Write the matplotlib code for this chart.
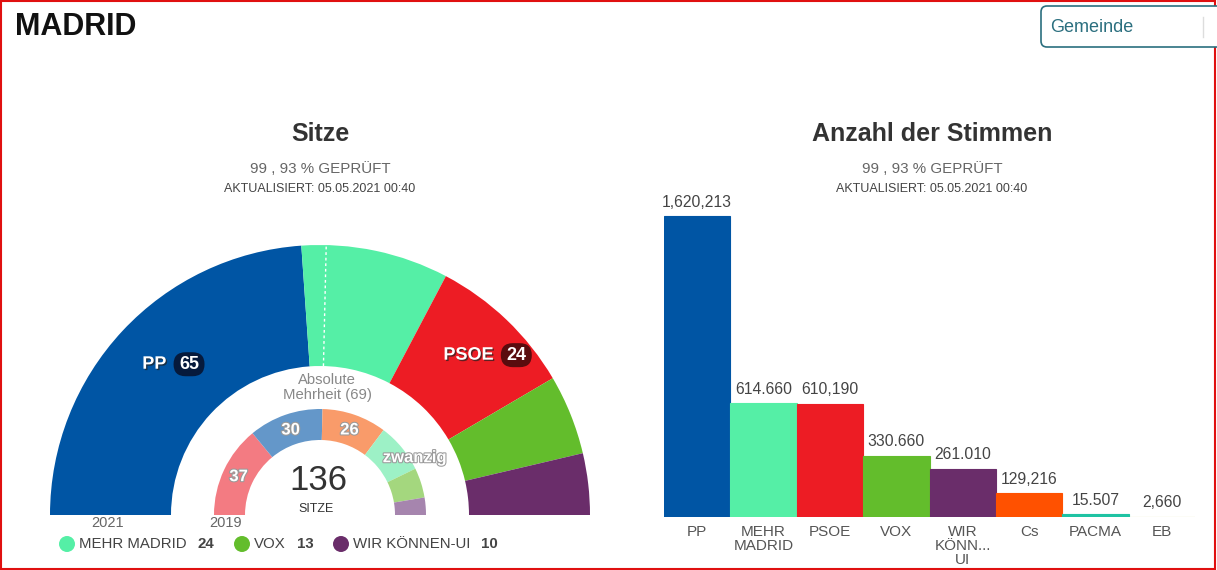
import numpy as np
import matplotlib
matplotlib.use('Agg')
import matplotlib.pyplot as plt
from matplotlib.patches import Wedge, Circle, FancyBboxPatch, Rectangle
import matplotlib.patheffects as pe

plt.rcParams['font.family'] = ['Liberation Sans', 'DejaVu Sans']

# seats 2021 (outer ring)
seat_parties = ['PP', 'MEHR MADRID', 'PSOE', 'VOX', 'WIR KÖNNEN-UI']
seat_values = [65, 24, 24, 13, 10]
seat_colors = ['#0055a4', '#55efa6', '#ed1c24', '#63bd2c', '#6a2d6a']
seat_badges = ['#061a3c', None, '#5a0c0e', None, None]
majority = 69

# seats 2019 (inner ring)
prev_values = [37, 30, 26, 20, 12, 7]
prev_labels = ['37', '30', '26', 'zwanzig', '', '']
prev_colors = ['#f37b82', '#6497c9', '#f99b6a', '#9df1c6', '#a4d77e', '#a685ae']

# votes
vote_parties = ['PP', 'MEHR\nMADRID', 'PSOE', 'VOX', 'WIR\nKÖNN...\nUI', 'Cs', 'PACMA', 'EB']
vote_values = [1620213, 614660, 610190, 330660, 261010, 129216, 15507, 2660]
vote_labels = ['1,620,213', '614.660', '610,190', '330.660', '261.010', '129,216', '15.507', '2,660']
vote_colors = ['#0055a4', '#55efa6', '#ed1c24', '#63bd2c', '#6a2d6a', '#ff5100', '#1fc3a3', '#c9d65c']

W, H = 1217, 570
fig = plt.figure(figsize=(W / 100, H / 100), dpi=100)
ax = fig.add_axes([0, 0, 1, 1])
ax.set_xlim(0, W)
ax.set_ylim(0, H)
ax.axis('off')

def Y(y):
    return H - y

# page frame
ax.add_patch(Rectangle((1, 1), W - 3, H - 2, fill=False, ec='#e01010', lw=1.5))
ax.text(15, Y(27), 'MADRID', fontsize=22, fontweight='bold', color='#111111', va='center')
ax.add_patch(FancyBboxPatch((1041, Y(47)), 200, 41, boxstyle='round,pad=0,rounding_size=6',
                            fc='white', ec='#2b6f7f', lw=1.2))
ax.plot([1203, 1203], [Y(17), Y(37)], color='#dddddd', lw=1)
ax.text(1050, Y(27), 'Gemeinde', fontsize=13, color='#2b6f7f', va='center')

# titles
for cx, title in [(320, 'Sitze'), (932, 'Anzahl der Stimmen')]:
    ax.text(cx, Y(134), title, fontsize=18, fontweight='bold', color='#333333', ha='center', va='center')
    ax.text(cx, Y(169), '99 , 93 % GEPRÜFT', fontsize=10.9, color='#666666', ha='center', va='center')
    ax.text(cx, Y(189), 'AKTUALISIERT: 05.05.2021 00:40', fontsize=9, color='#444444', ha='center', va='center')

fig.canvas.draw()
renderer = fig.canvas.get_renderer()

# hemicycle
cx, cy = 320, Y(515)
r_out, r_in = 270, 149
total = sum(seat_values)
start = 180.0
for i, v in enumerate(seat_values):
    span = v / total * 180
    ax.add_patch(Wedge((cx, cy), r_out, start - span, start, width=r_out - r_in,
                       fc=seat_colors[i], ec='none'))
    if seat_badges[i] is not None:
        mid = np.radians(start - span / 2)
        gx = cx + 221 * np.cos(mid) + 15
        gy = cy + 221 * np.sin(mid)
        t = ax.text(0, gy, seat_parties[i], fontsize=13, fontweight='bold', color='white',
                    ha='left', va='center',
                    path_effects=[pe.withSimplePatchShadow(offset=(1, -1), shadow_rgbFace='#222222', alpha=0.7)])
        tw = t.get_window_extent(renderer).width
        bw, gap = 31, 7
        left = gx - (tw + gap + bw) / 2
        t.set_x(left)
        bx = left + tw + gap
        ax.add_patch(FancyBboxPatch((bx, gy - 12), bw, 24, boxstyle='round,pad=0,rounding_size=12',
                                    fc=seat_badges[i], ec='none'))
        ax.text(bx + bw / 2, gy, str(v), fontsize=13, fontweight='bold', color='white',
                ha='center', va='center')
    start -= span

ang = np.radians(180 - majority / total * 180)
ax.plot([cx + r_in * np.cos(ang), cx + r_out * np.cos(ang)],
        [cy + r_in * np.sin(ang), cy + r_out * np.sin(ang)],
        color='white', lw=1, ls=(0, (2, 2)))

r2_out, r2_in = 106, 75
ptotal = sum(prev_values)
start = 180.0
for i, v in enumerate(prev_values):
    span = v / ptotal * 180
    ax.add_patch(Wedge((cx, cy), r2_out, start - span, start, width=r2_out - r2_in,
                       fc=prev_colors[i], ec='none'))
    if prev_labels[i]:
        mid = np.radians(start - span / 2)
        lx = cx + 90 * np.cos(mid)
        ly = cy + 90 * np.sin(mid)
        if prev_labels[i] == 'zwanzig':
            lx += 25
        ax.text(lx, ly, prev_labels[i], fontsize=12, fontweight='bold', color='white',
                ha='center', va='center',
                path_effects=[pe.withStroke(linewidth=1.5, foreground='#999999')])
    start -= span

ax.text(327, Y(380), 'Absolute', fontsize=10.7, color='#888888', ha='center', va='center')
ax.text(327, Y(395), 'Mehrheit (69)', fontsize=10.7, color='#888888', ha='center', va='center')
ax.text(318, Y(480), str(total), fontsize=25, color='#333333', ha='center', va='center')
ax.text(316, Y(509), 'SITZE', fontsize=9, color='#333333', ha='center', va='center')
ax.text(108, Y(523), '2021', fontsize=10.5, color='#666666', ha='center', va='center')
ax.text(226, Y(523), '2019', fontsize=10.5, color='#666666', ha='center', va='center')

# legend for parties without arc label
legend_x = [67, 242, 341]
k = 0
for i in range(len(seat_parties)):
    if seat_badges[i] is not None:
        continue
    x0 = legend_x[k]
    k += 1
    ax.add_patch(Circle((x0, Y(544)), 8, fc=seat_colors[i], ec='none'))
    t = ax.text(x0 + 12, Y(544), seat_parties[i], fontsize=10.8, color='#444444', va='center')
    bb = t.get_window_extent(renderer)
    ax.text(bb.x1 + 11, Y(544), str(seat_values[i]), fontsize=10.8, fontweight='bold',
            color='#444444', va='center')

# votes bar chart
ax1 = fig.add_axes([664 / W, 53 / H, 531 / W, 317 / H])
x = np.arange(len(vote_values))
ax1.bar(x, vote_values, width=1.0, color=vote_colors, edgecolor=vote_colors, linewidth=0.8)
ax1.set_xlim(-0.5, len(vote_values) - 0.5)
ax1.set_ylim(0, max(vote_values) * 317 / 301)
for s in ax1.spines.values():
    s.set_visible(False)
ax1.set_yticks([])
ax1.set_xticks(x)
ax1.set_xticklabels(vote_parties, fontsize=11, color='#555555', linespacing=1.0, va='top')
ax1.tick_params(axis='x', length=0, pad=6)
for xi, v, lab in zip(x, vote_values, vote_labels):
    ax1.annotate(lab, (xi, v), xytext=(0, 4.5), textcoords='offset points',
                 ha='center', va='bottom', fontsize=11.3, color='#444444')

fig.savefig('out.png', dpi=100)
